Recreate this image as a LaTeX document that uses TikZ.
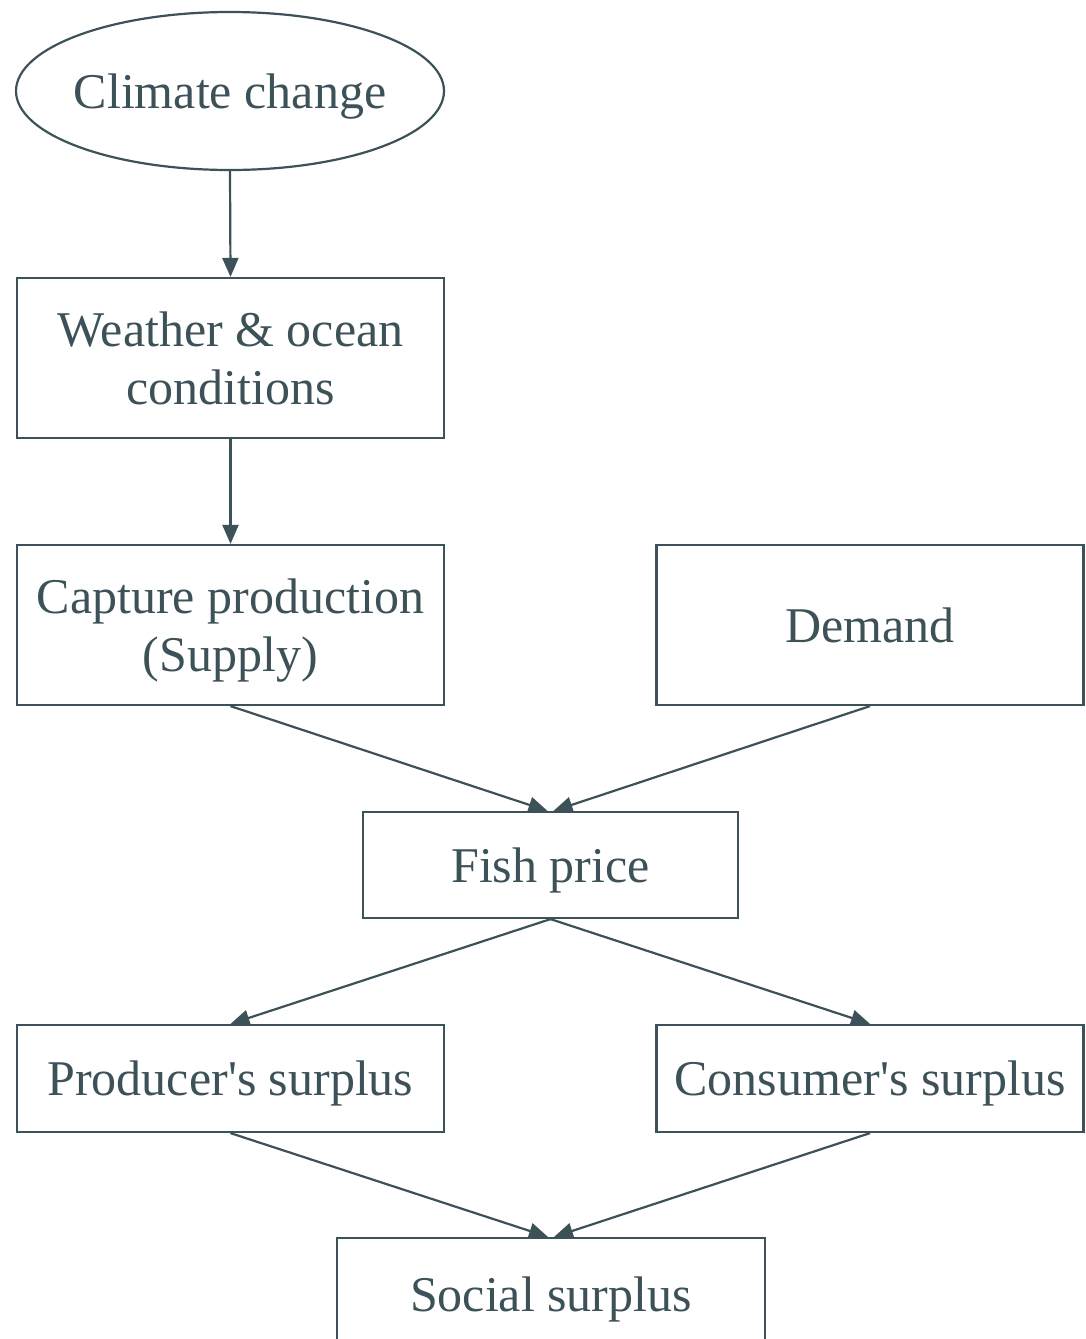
\documentclass[tikz,border=0pt]{standalone}
\usepackage{fontspec}
\setmainfont{Liberation Serif}
\usetikzlibrary{shapes.geometric,arrows.meta}
\definecolor{ink}{HTML}{3D5258}
\begin{document}
\begin{tikzpicture}[x=1pt,y=-1pt,
  base/.style={draw=ink,line width=2.2pt,text=ink,inner sep=0pt,align=center,
    text depth=0pt,font=\fontsize{50}{58}\selectfont},
  box/.style={base,rectangle,minimum width=427pt},
  tall/.style={box,minimum height=160pt},
  short/.style={box,minimum height=107pt},
  oval/.style={base,ellipse,inner xsep=-5pt,minimum width=428pt,minimum height=158pt},
  arr/.style={draw=ink,line width=2.2pt,-{Triangle[length=19pt,width=16pt]}}]
\clip (0,0) rectangle (1086,1339);
\fill[white] (0,0) rectangle (1086,1339);
\node[oval] (cc) at (230,91) {Climate change};
\node[tall] (wo) at (230.5,358) {Weather \& ocean\\conditions};
\node[tall] (cp) at (230.5,625) {Capture production\\(Supply)};
\node[tall] (dm) at (870,625) {Demand};
\node[short,minimum width=375pt,minimum height=106pt] (fp) at (550.5,865) {Fish price};
\node[short] (ps) at (230.5,1078.5) {Producer\textquotesingle s surplus};
\node[short] (cs) at (870,1078.5) {Consumer\textquotesingle s surplus};
\node[box,minimum width=428pt,minimum height=112pt] (ss) at (551,1294) {Social surplus};
\draw[arr] (cc.south) -- (wo.north);
\draw[arr] (wo.south) -- (cp.north);
\draw[arr] (cp.south) -- ([xshift=-3pt]fp.north);
\draw[arr] (dm.south) -- ([xshift=3pt]fp.north);
\draw[arr] (fp.south) -- (ps.north);
\draw[arr] (fp.south) -- (cs.north);
\draw[arr] (ps.south) -- ([xshift=-3pt]ss.north);
\draw[arr] (cs.south) -- ([xshift=3pt]ss.north);
\end{tikzpicture}
\end{document}
